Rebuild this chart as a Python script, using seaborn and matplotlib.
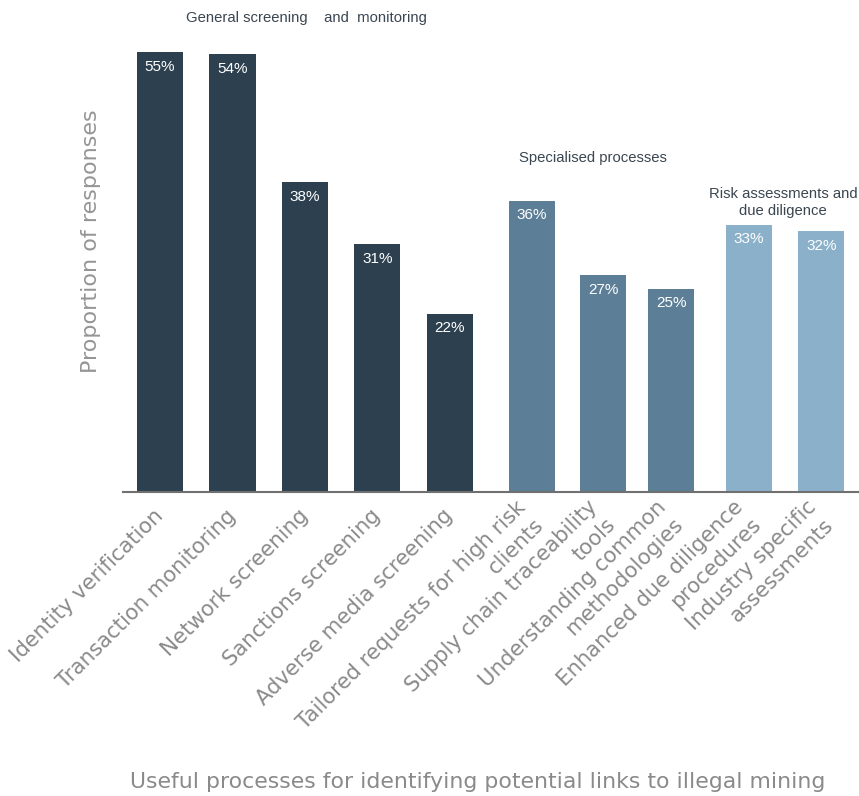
import matplotlib
matplotlib.use("Agg")
import matplotlib.pyplot as plt
import seaborn as sns
import pandas as pd
import numpy as np

# data
processes = [
    "Identity verification",
    "Transaction monitoring",
    "Network screening",
    "Sanctions screening",
    "Adverse media screening",
    "Tailored requests for high risk\nclients",
    "Supply chain traceability\ntools",
    "Understanding common\nmethodologies",
    "Enhanced due diligence\nprocedures",
    "Industry specific\nassessments",
]
# bar heights as measured, and the rounded labels printed on them
shares = [55.0, 54.7, 38.7, 31.0, 22.3, 36.4, 27.1, 25.4, 33.4, 32.6]
share_labels = ["55%", "54%", "38%", "31%", "22%", "36%", "27%", "25%", "33%", "32%"]
groups = ["General", "General", "General", "General", "General",
          "Specialised", "Specialised", "Specialised",
          "Risk", "Risk"]
# bars are grouped with small gaps between the groups
positions = [0, 1, 2, 3, 4, 5.13, 6.12, 7.06, 8.13, 9.13]

group_titles = ["General screening    and  monitoring",
                "Specialised processes",
                "Risk assessments and\ndue diligence"]
group_title_x = [2.02, 5.98, 8.6]
group_title_y = [59.3, 41.8, 36.2]

palette = {"General": "#2c404f", "Specialised": "#5c7f97", "Risk": "#8bb0ca"}

df = pd.DataFrame({"pos": positions, "share": shares, "group": groups})

sns.set_style("white")
plt.rcParams["font.family"] = ["DejaVu Sans"]

fig = plt.figure(figsize=(8.59, 7.96), dpi=100)
ax = fig.add_axes([123 / 859, 1 - 492 / 796, 1 - 123 / 859, 480 / 796])

bar_w = 0.637
sns.barplot(data=df, x="pos", y="share", hue="group", palette=palette,
            native_scale=True, dodge=False, legend=False,
            width=bar_w / min(np.diff(positions)), saturation=1,
            linewidth=0, ax=ax)

for x, v, lab in zip(positions, shares, share_labels):
    ax.annotate(lab, (x, v), xytext=(0, -5.5), textcoords="offset points",
                ha="center", va="top", color="white", fontsize=11,
                family="Liberation Sans")

for t, x, y in zip(group_titles, group_title_x, group_title_y):
    ax.text(x, y, t, ha="center", va="center", fontsize=10.7,
            color="#3a4651", family="Liberation Sans", linespacing=1.3)

ax.set_xlim(-0.512, 9.65)
ax.set_ylim(0, 60)
ax.set_yticks([])
ax.set_xticks(positions)
ax.set_xticklabels(processes, rotation=45, ha="right", va="center",
                   rotation_mode="anchor", multialignment="right",
                   fontsize=15.3, color="#8a8a8a", linespacing=1.3)
ax.tick_params(axis="x", length=0, pad=15)

for s in ["top", "right", "left"]:
    ax.spines[s].set_visible(False)
ax.spines["bottom"].set_color("#707070")
ax.spines["bottom"].set_linewidth(1.5)

ax.set_xlabel("")
ax.set_ylabel("Proportion of responses", fontsize=16, color="#959595")
ax.yaxis.set_label_coords(-0.03, 0.523)

fig.text(478 / 859, 1 - 782 / 796,
         "Useful processes for identifying potential links to illegal mining",
         ha="center", va="center", fontsize=15.8, color="#8a8a8a")

fig.savefig("out.png", dpi=100)
